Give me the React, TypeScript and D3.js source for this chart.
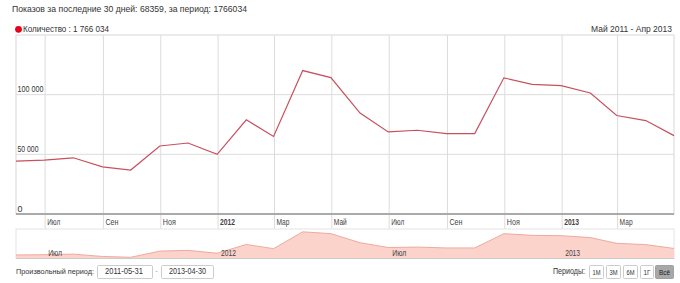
import React from "react";
import * as d3 from "d3";

const dates = [
  "2011-05-31","2011-06-30","2011-07-31","2011-08-31","2011-09-30","2011-10-31","2011-11-30","2011-12-31",
  "2012-01-31","2012-02-29","2012-03-31","2012-04-30","2012-05-31","2012-06-30","2012-07-31","2012-08-31",
  "2012-09-30","2012-10-31","2012-11-30","2012-12-31","2013-01-31","2013-02-28","2013-03-31","2013-04-30",
];
const values = [
  44350, 45200, 47100, 39500, 36800, 57000, 59500, 50000,
  78900, 65000, 120200, 114300, 84600, 68800, 70200, 67400,
  67400, 114100, 108700, 107600, 101400, 82500, 78300, 65700,
];
const monthNames = ["Янв","Фев","Мар","Апр","Май","Июн","Июл","Авг","Сен","Окт","Ноя","Дек"];
const yTicks = [0, 50000, 100000];
const navYDomain = [32800, 129500];
const titleText = "Показов за последние 30 дней: 68359, за период: 1766034";
const legendText = "Количество : 1 766 034";
const rangeText = "Май 2011 - Апр 2013";
const periodLabel = "Произвольный период:";
const fromDate = "2011-05-31";
const toDate = "2013-04-30";
const periodsLabel = "Периоды:";
const periodButtons = ["1М", "3М", "6М", "1Г", "Всё"];

const parse = d3.timeParse("%Y-%m-%d");
const data = dates.map((d, i) => ({ date: parse(d) as Date, value: values[i] }));

const W = 680, H = 283;
const L = 16, R = 674, T = 35, B = 214;
const NT = 229, NB = 258.5;
const font = "Arial, 'Liberation Sans', sans-serif";

function Txt(props: any) {
  const { w, children, ...rest } = props;
  return (
    <text {...rest} textLength={w} lengthAdjust="spacingAndGlyphs">{children}</text>
  );
}

export default function App() {
  const x = d3.scaleTime().domain([data[0].date, data[data.length - 1].date]).range([L, R]);
  const y = d3.scaleLinear().domain([0, 150000]).range([B, T]);
  const ny = d3.scaleLinear().domain(navYDomain).range([NB, NT]);

  const line = d3.line<any>().x((d) => x(d.date)).y((d) => y(d.value));
  const navArea = d3.area<any>().x((d) => x(d.date)).y0(NB).y1((d) => ny(d.value));
  const navLine = d3.line<any>().x((d) => x(d.date)).y((d) => ny(d.value));

  const monthTicks = d3.timeMonth.range(new Date(2011, 6, 1), new Date(2013, 3, 2))
    .filter((d) => d.getMonth() % 2 === 0);
  const navTicks = monthTicks.filter((d) => d.getMonth() === 0 || d.getMonth() === 6);

  const btnX = [589, 606, 623, 640, 655];
  const btnW = [14, 14, 14, 13, 18];
  const btnTW = [8, 8, 8, 7, 11];
  const fmt = (t: number) => d3.format(",")(t).replace(/,/g, " ");
  const yLabW: Record<number, number> = { 0: 5, 50000: 21, 100000: 26 };

  return (
    <svg width={W} height={H} style={{ display: "block", position: "absolute", left: 0, top: 0 }} fontFamily={font}>
      <rect x={0} y={0} width={W} height={H} fill="#fff" />
      <Txt x={12} y={12} fontSize={9.5} fill="#333" w={235}>{titleText}</Txt>

      {/* legend */}
      <circle cx={18.5} cy={29.3} r={3.4} fill="#e8001c" />
      <Txt x={23} y={32.3} fontSize={9} fill="#333" w={86}>{legendText}</Txt>
      <Txt x={591} y={32.3} fontSize={9} fill="#333" w={81}>{rangeText}</Txt>

      {/* grid */}
      <rect x={L} y={T} width={R - L} height={B - T} fill="none" stroke="#d8d8d8" />
      {yTicks.slice(1).map((t) => (
        <line key={t} x1={L} x2={R} y1={y(t)} y2={y(t)} stroke="#dcdcdc" />
      ))}
      {monthTicks.map((d, i) => (
        <line key={i} x1={x(d)} x2={x(d)} y1={T} y2={NT} stroke="#dcdcdc" />
      ))}
      {yTicks.map((t) => (
        <Txt key={t} x={17.5} y={y(t) - 2.5} fontSize={8.5} fill="#333" w={yLabW[t]}>{fmt(t)}</Txt>
      ))}
      <line x1={L} x2={R} y1={B} y2={B} stroke="#aaa" strokeWidth={2} />
      {monthTicks.map((d, i) => {
        const isYear = d.getMonth() === 0;
        return (
          <Txt key={i} x={x(d) + 2} y={224.5} fontSize={8.5} fill="#444" fontWeight={isYear ? "bold" : "normal"}
            w={isYear ? 15 : 13}>
            {isYear ? String(d.getFullYear()) : monthNames[d.getMonth()]}
          </Txt>
        );
      })}

      {/* main line */}
      <path d={line(data) || ""} fill="none" stroke="#c8505e" strokeWidth={1.2} />

      {/* navigator */}
      <rect x={L} y={NT} width={R - L} height={NB - NT} fill="#fff" stroke="#e4e4e4" />
      <path d={navArea(data) || ""} fill="#fbd3cb" />
      <path d={navLine(data) || ""} fill="none" stroke="#eeaaa0" strokeWidth={1} />
      <line x1={L} x2={R} y1={NB} y2={NB} stroke="#ccc" />
      {navTicks.map((d, i) => (
        <Txt key={i} x={x(d) + 3} y={256} fontSize={8.5} fill="#444" w={d.getMonth() === 0 ? 15 : 14}>
          {d.getMonth() === 0 ? String(d.getFullYear()) : monthNames[d.getMonth()]}
        </Txt>
      ))}

      {/* bottom controls */}
      <Txt x={16} y={274} fontSize={8} fill="#333" w={78}>{periodLabel}</Txt>
      <rect x={97.5} y={265.5} width={55} height={13} fill="#fff" stroke="#ccc" rx={1} />
      <Txt x={105} y={274} fontSize={8.5} fill="#333" w={38}>{fromDate}</Txt>
      <text x={156.5} y={274} fontSize={9} fill="#bbb" textAnchor="middle">-</text>
      <rect x={161.5} y={265.5} width={52} height={13} fill="#fff" stroke="#ccc" rx={1} />
      <Txt x={169} y={274} fontSize={8.5} fill="#333" w={37}>{toDate}</Txt>

      <Txt x={553} y={274} fontSize={8.5} fill="#333" w={32}>{periodsLabel}</Txt>
      {periodButtons.map((b, i) => (
        <g key={b}>
          <rect x={btnX[i] + 0.5} y={265.5} width={btnW[i]} height={13}
            fill={i === 4 ? "#a8a8a8" : "#fff"} stroke={i === 4 ? "#a0a0a0" : "#ccc"} rx={1} />
          <Txt x={btnX[i] + 0.5 + (btnW[i] - btnTW[i]) / 2} y={274.5} fontSize={8} fill={i === 4 ? "#222" : "#333"}
            w={btnTW[i]}>{b}</Txt>
        </g>
      ))}
    </svg>
  );
}
